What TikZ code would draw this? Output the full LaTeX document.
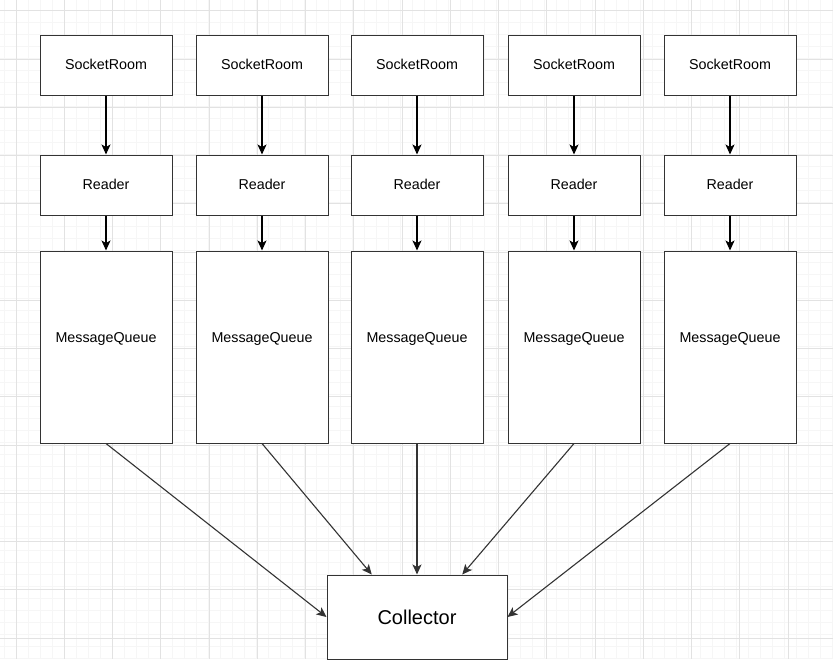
\documentclass[tikz,border=0pt]{standalone}
\usepackage{fontspec}
\setmainfont{Liberation Sans}
\usepackage{tikz}
\usetikzlibrary{calc,arrows.meta}
\definecolor{edge}{RGB}{51, 51, 51}
\definecolor{gridmajor}{RGB}{226, 226, 226}
\definecolor{gridminor}{RGB}{246, 246, 246}

\tikzset{
  box/.style = {
    draw         = edge,
    line width   = 1pt,
    fill         = white,
    minimum width  = 132pt,
    minimum height = 60pt,
    font         = \fontsize{14.3}{17}\selectfont
  },
  queue/.style = {
    box,
    minimum height = 192pt
  },
  flow/.style = {
    draw       = black,
    line width = 1.1pt,
    -{Stealth[length=10pt, width=9pt, inset=2.5pt]}
  },
  merge/.style = {
    flow,
    draw = edge
  }
}

\begin{document}
\begin{tikzpicture}[x=1pt, y=-1pt]
  \useasboundingbox (0,0) rectangle (833,659);
  \fill[white] (0,0) rectangle (833,659);

  % background grid
  \foreach \gx in {4,16,...,833}
    \draw[gridminor, line width=0.6pt] (\gx,0) -- (\gx,659);
  \foreach \gy in {10.7,22.7,...,659}
    \draw[gridminor, line width=0.6pt] (0,\gy) -- (833,\gy);
  \foreach \gx in {16,64.25,...,833}
    \draw[gridmajor, line width=0.7pt] (\gx,0) -- (\gx,659);
  \foreach \gy in {10.7,58.95,...,659}
    \draw[gridmajor, line width=0.7pt] (0,\gy) -- (833,\gy);

  % one column per room
  \foreach \i/\cx in {1/106, 2/262, 3/417, 4/574, 5/730} {
    \node[box]   (room\i)   at (\cx,65)  {\raisebox{1pt}{SocketRoom}};
    \node[box]   (reader\i) at (\cx,185) {\raisebox{1pt}{Reader}};
    \node[queue, label={[font=\fontsize{14.3}{17}\selectfont, yshift=8pt]center:MessageQueue}]
                 (queue\i)  at (\cx,347) {};
    \draw[flow] (room\i.south) -- (reader\i.north);
    \draw[flow] (reader\i.south) -- (queue\i.north);
  }

  \node[
    draw           = edge,
    line width     = 1pt,
    fill           = white,
    minimum width  = 180pt,
    minimum height = 84pt,
    font           = \fontsize{20}{24}\selectfont
  ] (collector) at (417,617) {Collector};

  \draw[merge] (queue1.south) -- (collector.west);
  \draw[merge] (queue2.south) -- ($(collector.north west)!0.25!(collector.north east)$);
  \draw[merge] (queue3.south) -- (collector.north);
  \draw[merge] (queue4.south) -- ($(collector.north west)!0.75!(collector.north east)$);
  \draw[merge] (queue5.south) -- (collector.east);
\end{tikzpicture}
\end{document}
